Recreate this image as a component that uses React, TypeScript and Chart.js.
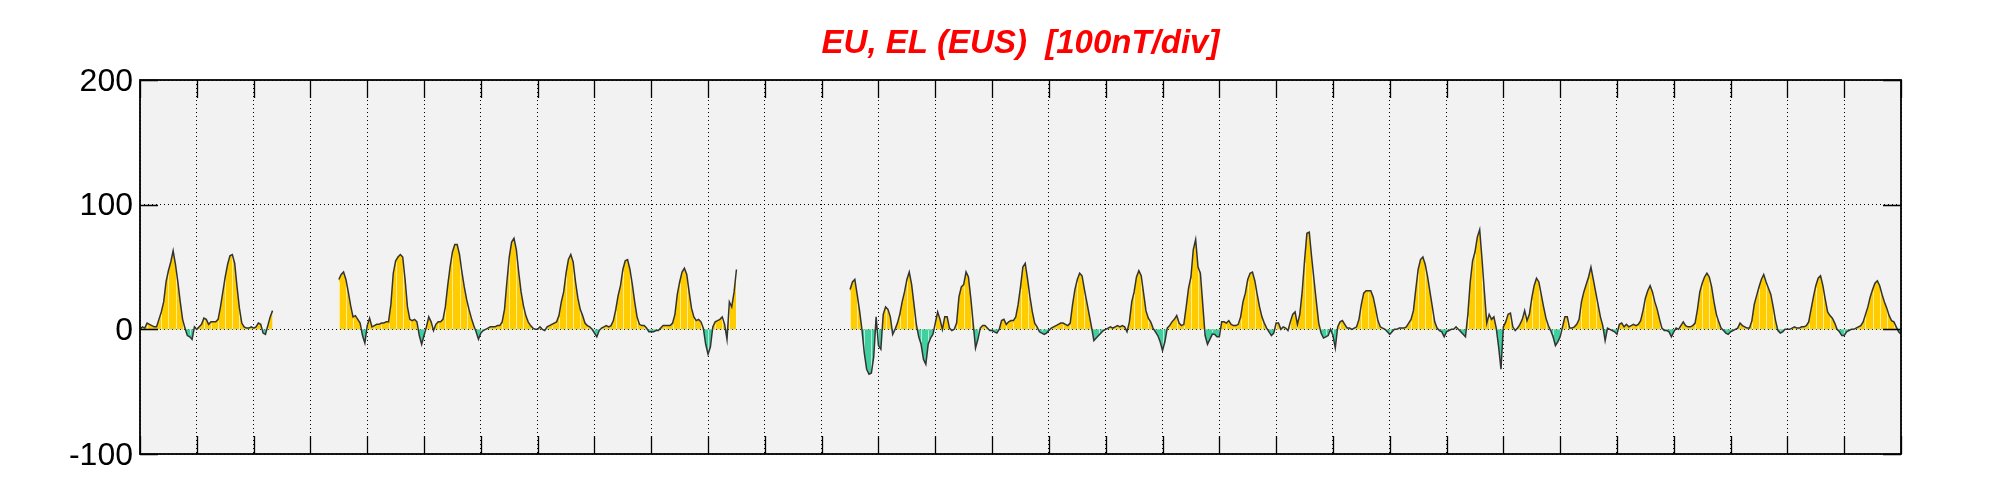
import React, { useEffect, useRef } from 'react';
import { Chart, registerables } from 'chart.js';

Chart.register(...registerables);

const titleText = 'EU, EL (EUS)  [100nT/div]';
const yTickValues = [-100, 0, 100, 200];
const hoursPerDay = 24;
const dayCount = 31;
const N = null;

// hourly values (nT), one array per day of the month
const d01 = [0, 2, 1, 5, 4, 3, 2, 2, 8, 14, 22, 38, 47, 54, 63, 52, 38, 22, 8, 1, -5, -6, -8, 2];
const d02 = [0, 2, 4, 9, 8, 4, 6, 6, 6, 8, 18, 30, 42, 52, 59, 60, 53, 34, 17, 5, 2, 1, 1, 2];
const d03 = [1, 2, 5, 4, -3, -4, 3, 10, 15, N, N, N, N, N, N, N, N, N, N, N, N, N, N, N];
const d04 = [N, N, N, N, N, N, N, N, N, N, N, N, 40, 44, 46, 40, 30, 19, 10, 11, 8, 5, -5, -11];
const d05 = [3, 9, 2, 3, 4, 4, 5, 5, 6, 6, 20, 45, 55, 58, 60, 58, 40, 18, 8, 7, 8, 6, -5, -12];
const d06 = [-5, 2, 10, 6, -1, 4, 6, 6, 8, 18, 35, 50, 62, 68, 68, 60, 46, 34, 24, 16, 9, 3, -2, -8];
const d07 = [-3, -1, 0, 1, 2, 2, 2, 3, 3, 6, 16, 38, 58, 70, 73, 64, 46, 30, 19, 11, 6, 3, 1, 0];
const d08 = [0, 2, 0, -1, 2, 3, 4, 5, 6, 11, 22, 30, 45, 56, 60, 54, 38, 25, 16, 11, 5, 3, 2, 0];
const d09 = [-3, -6, -1, 1, 2, 3, 2, 3, 7, 16, 27, 35, 48, 55, 56, 48, 36, 22, 10, 4, 3, 3, 1, -2];
const d10 = [-2, -2, -1, -1, 1, 3, 3, 3, 3, 5, 12, 28, 38, 46, 49, 44, 30, 17, 10, 7, 8, 6, 1, -12];
const d11 = [-20, -14, 2, 6, 7, 8, 10, 4, -8, 22, 18, 30, 48, N, N, N, N, N, N, N, N, N, N, N];
const d12 = [N, N, N, N, N, N, N, N, N, N, N, N, N, N, N, N, N, N, N, N, N, N, N, N];
const d13 = [N, N, N, N, N, N, N, N, N, N, N, N, 32, 38, 40, 28, 15, 0, -19, -32, -36, -35, -22, 10];
const d14 = [-13, -16, 12, 18, 16, 10, -4, 0, 5, 12, 22, 30, 40, 46, 36, 20, 4, -6, -12, -24, -28, -12, -7, -4];
const d15 = [5, 14, 8, 0, 10, 10, 1, -1, 0, 5, 26, 34, 36, 46, 42, 25, 5, -15, -8, 1, 3, 3, 1, -1];
const d16 = [-1, -2, -3, 0, 7, 8, 4, 6, 7, 7, 10, 20, 34, 50, 53, 40, 26, 14, 5, 2, -2, -3, -4, -3];
const d17 = [-1, 1, 2, 3, 4, 5, 5, 4, 3, 5, 20, 32, 40, 45, 43, 32, 22, 12, 2, -9, -7, -5, -3, -1];
const d18 = [0, 1, 2, 1, 2, 3, 2, 3, 2, -2, 6, 22, 30, 42, 47, 43, 29, 15, 9, 6, 1, -2, -5, -10];
const d19 = [-17, -10, 1, 3, 6, 8, 11, 5, 3, 4, 18, 33, 42, 64, 72, 50, 45, 20, -5, -12, -8, -4, -4, -6];
const d20 = [-6, 6, 6, 5, 7, 4, 3, 3, 4, 10, 22, 29, 40, 45, 46, 39, 28, 18, 10, 5, 1, -2, -5, -3];
const d21 = [5, 5, 0, 2, 1, -1, 6, 12, 14, 4, 12, 30, 55, 77, 78, 58, 40, 22, 5, -3, -7, -6, -5, 0];
const d22 = [-5, -15, 2, 6, 7, 4, 1, 1, 0, 1, 2, 8, 20, 29, 31, 31, 31, 26, 17, 7, 2, 1, 0, -2];
const d23 = [-4, -2, 0, 0, 1, 1, 1, 2, 5, 8, 15, 32, 48, 56, 58, 52, 42, 30, 18, 6, 1, -1, -2, -6];
const d24 = [-2, -1, 0, 0, 2, 0, -2, -4, -6, 12, 38, 55, 62, 74, 80, 56, 30, 5, 12, 8, 10, 1, -14, -32];
const d25 = [2, 6, 12, 13, 2, -1, 1, 4, 8, 15, 7, 12, 25, 35, 41, 38, 28, 18, 9, 3, -1, -6, -13, -10];
const d26 = [-6, 2, 10, 10, 1, 1, 2, 4, 8, 22, 30, 36, 42, 50, 40, 30, 20, 10, 3, -9, 1, 0, -1, -2];
const d27 = [-4, 4, 5, 2, 4, 2, 3, 4, 3, 4, 7, 15, 25, 31, 35, 30, 22, 16, 8, 1, -1, -1, -2, -6];
const d28 = [-2, 1, 0, 3, 6, 3, 2, 2, 3, 5, 16, 30, 37, 42, 45, 42, 34, 22, 12, 6, 1, -1, -3, -4];
const d29 = [-2, -1, 0, 1, 5, 3, 2, 1, 1, 7, 20, 27, 34, 40, 44, 38, 33, 28, 18, 7, -1, -3, -2, 0];
const d30 = [0, 0, 1, 2, 1, 1, 2, 2, 3, 6, 16, 26, 35, 41, 43, 35, 24, 14, 11, 9, 5, 0, -2, -5];
const d31 = [-5, -2, -1, 0, 0, 1, 2, 3, 6, 12, 18, 26, 32, 37, 39, 35, 28, 22, 17, 11, 7, 6, 2, -2, -4];

const dayArrays = [d01, d02, d03, d04, d05, d06, d07, d08, d09, d10, d11, d12, d13, d14, d15, d16,
  d17, d18, d19, d20, d21, d22, d23, d24, d25, d26, d27, d28, d29, d30, d31];

export default function App() {
  const ref = useRef<HTMLCanvasElement>(null);

  useEffect(() => {
    if (!ref.current) return;
    const values = dayArrays.flat();
    const points = values.map((v, i) => ({ x: i, y: v }));

    const framePlugin = {
      id: 'frame',
      beforeDraw(chart: any) {
        const { ctx, chartArea: a } = chart;
        ctx.save();
        ctx.fillStyle = '#f2f2f2';
        ctx.fillRect(a.left, a.top, a.right - a.left, a.bottom - a.top);
        ctx.restore();
      },
      beforeDatasetDraw(chart: any) {
        // thin light seams across the filled area, one every three samples
        const { ctx, scales } = chart;
        const y0 = scales.y.getPixelForValue(0);
        ctx.save();
        ctx.strokeStyle = 'rgba(255,255,255,0.6)';
        ctx.lineWidth = 1;
        ctx.beginPath();
        values.forEach((v, i) => {
          if (v === null || i % 3 !== 0) return;
          const px = Math.round(scales.x.getPixelForValue(i)) + 0.5;
          const py = scales.y.getPixelForValue(v);
          if (Math.abs(py - y0) < 3) return;
          ctx.moveTo(px, y0);
          ctx.lineTo(px, py + (py < y0 ? 2 : -2));
        });
        ctx.stroke();
        ctx.restore();
      },
      afterDatasetsDraw(chart: any) {
        const { ctx, chartArea: a, scales } = chart;
        const tl = 18;
        ctx.save();
        ctx.strokeStyle = '#000';
        ctx.lineWidth = 1.3;
        ctx.beginPath();
        scales.x.ticks.forEach((t: any) => {
          const px = Math.round(scales.x.getPixelForValue(t.value)) + 0.5;
          ctx.moveTo(px, a.top);
          ctx.lineTo(px, a.top + tl);
          ctx.moveTo(px, a.bottom);
          ctx.lineTo(px, a.bottom - tl);
        });
        scales.y.ticks.forEach((t: any) => {
          const py = Math.round(scales.y.getPixelForValue(t.value)) + 0.5;
          ctx.moveTo(a.left, py);
          ctx.lineTo(a.left + tl, py);
          ctx.moveTo(a.right, py);
          ctx.lineTo(a.right - tl, py);
        });
        ctx.stroke();
        ctx.lineWidth = 1.8;
        ctx.strokeRect(a.left, a.top, a.right - a.left, a.bottom - a.top);
        ctx.restore();
      },
    };

    const chart = new Chart(ref.current, {
      type: 'line',
      data: {
        datasets: [
          {
            label: 'EU/EL',
            data: points as any,
            borderColor: '#333333',
            borderWidth: 1.5,
            pointRadius: 0,
            tension: 0,
            spanGaps: false,
            fill: { target: 'origin', above: '#ffcc00', below: '#40d0a0' } as any,
          },
        ],
      },
      options: {
        animation: false,
        responsive: false,
        devicePixelRatio: 1,
        layout: { padding: { left: 0, right: 100, top: 0, bottom: 46 } },
        plugins: {
          legend: { display: false },
          tooltip: { enabled: false },
          title: {
            display: true,
            text: titleText,
            color: '#f00',
            fullSize: false,
            font: { family: 'Liberation Sans', size: 33, style: 'italic', weight: 'bold', lineHeight: 1.2 },
            padding: { top: 24, bottom: 16.4 },
          },
        },
        scales: {
          x: {
            type: 'linear',
            min: 0,
            max: hoursPerDay * dayCount,
            ticks: { display: false, stepSize: hoursPerDay },
            grid: { color: '#000', lineWidth: 1, drawTicks: false },
            border: { display: false, dash: [1, 3] },
            afterFit: (s: any) => { s.height = 0; },
          },
          y: {
            min: -100,
            max: 200,
            ticks: {
              stepSize: 100,
              color: '#000',
              padding: 7,
              labelOffset: 2,
              font: { family: 'Liberation Sans', size: 32 },
            },
            afterBuildTicks: (s: any) => { s.ticks = yTickValues.map((v) => ({ value: v })); },
            grid: { color: '#000', lineWidth: 1, drawTicks: false },
            border: { display: false, dash: [1, 3] },
            afterFit: (s: any) => { s.width = 140; },
          },
        },
      },
      plugins: [framePlugin],
    });
    return () => chart.destroy();
  }, []);

  return (
    <div style={{ position: 'fixed', left: 0, top: 0, width: 2001, height: 500, background: '#fff' }}>
      <canvas ref={ref} width={2001} height={500} style={{ width: 2001, height: 500, display: 'block' }} />
    </div>
  );
}
